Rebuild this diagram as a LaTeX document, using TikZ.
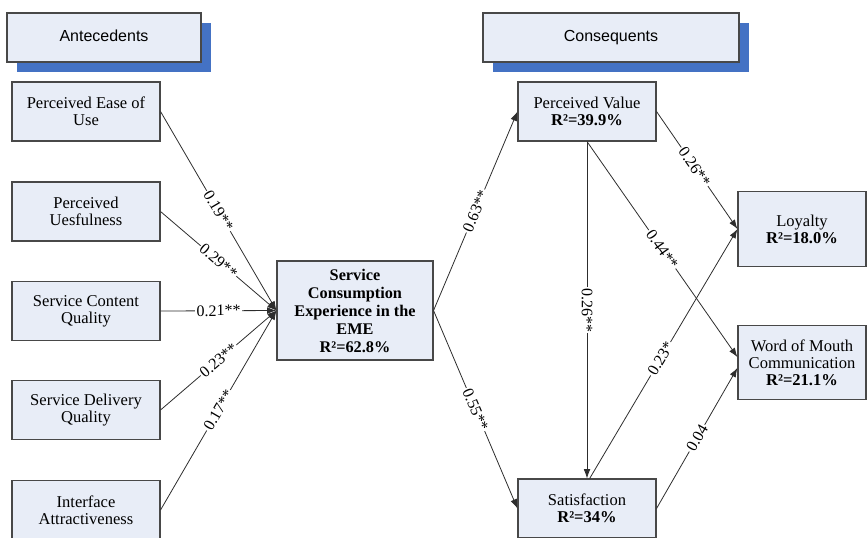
\documentclass[tikz,border=0pt]{standalone}
\usepackage{fontspec}
\setmainfont{Liberation Serif}
\newfontfamily\headfont{Liberation Sans}
\usetikzlibrary{arrows.meta,shadows}

\definecolor{boxfill}{RGB}{232,237,247}
\definecolor{boxline}{RGB}{72,72,72}
\definecolor{shadeblue}{RGB}{68,114,196}
\definecolor{pathline}{RGB}{45,45,45}

\begin{document}
\begin{tikzpicture}[x=0.75pt, y=-0.75pt,
  construct/.style={draw=boxline, fill=boxfill, line width=0.8pt, align=center,
    inner sep=2pt, font=\fontsize{12.4}{12.8}\selectfont},
  leftbox/.style={construct, minimum width=111pt, minimum height=44.25pt},
  midbox/.style={construct, minimum width=103.5pt, minimum height=44.25pt},
  rightbox/.style={construct, minimum width=96pt, minimum height=56pt},
  header/.style={draw=boxline, fill=boxfill, line width=0.8pt, minimum height=36.75pt,
    text height=9pt, text depth=2.5pt,
    font=\headfont\fontsize{12}{14}\selectfont,
    drop shadow={shadow xshift=7.5pt, shadow yshift=-7.5pt, fill=shadeblue, opacity=1}},
  path/.style={draw=pathline, line width=0.6pt, -{Latex[length=7pt,width=5pt]}},
  coef/.style={sloped, fill=white, inner sep=1pt, text=black,
    font=\fontsize{12}{12}\selectfont}
]

  % Keep the page at the size of the figure
  \useasboundingbox (0,0) rectangle (868,537);

  % Section headings
  \node[header, minimum width=145.5pt] (ante) at (104,37.5) {Antecedents};
  \node[header, minimum width=192pt]   (cons) at (611,37.5) {Consequents};

  % Antecedent constructs
  \node[leftbox] (ease)  at (86,111.5) {Perceived Ease of\\Use};
  \node[leftbox] (use)   at (86,211.5) {Perceived\\Uesfulness};
  \node[leftbox] (cont)  at (86,311)   {Service Content\\Quality};
  \node[leftbox] (deliv) at (86,410)   {Service Delivery\\Quality};
  \node[leftbox] (inter) at (86,510)   {Interface\\Attractiveness};

  % Central construct
  \node[construct, minimum width=117pt, minimum height=74.25pt,
        font=\bfseries\fontsize{12.2}{13.5}\selectfont] (sce) at (355,310.5)
    {Service\\Consumption\\Experience in the\\EME\\R²=62.8\%};

  % Consequent constructs
  \node[midbox] (value) at (587,111.5) {Perceived Value\\\textbf{R²=39.9\%}};
  \node[midbox] (satis) at (587,508.5) {Satisfaction\\\textbf{R²=34\%}};
  \node[rightbox] (loyal) at (802,229)   {Loyalty\\\textbf{R²=18.0\%}};
  \node[rightbox] (wom)   at (802,362.5) {Word of Mouth\\Communication\\\textbf{R²=21.1\%}};

  % Paths into the experience construct
  \draw[path] (ease.east)  -- node[coef] {0.19**} (sce.west);
  \draw[path] (use.east)   -- node[coef] {0.29**} (sce.west);
  \draw[path] (cont.east)  -- node[coef] {0.21**} (sce.west);
  \draw[path] (deliv.east) -- node[coef] {0.23**} (sce.west);
  \draw[path] (inter.east) -- node[coef] {0.17**} (sce.west);

  % Paths to the consequents
  \draw[path] (sce.east) -- node[coef] {0.63**} (value.west);
  \draw[path] (sce.east) -- node[coef] {0.55**} (satis.west);
  \draw[path] (value.south) -- node[coef] {0.26**} (satis.north);
  \draw[path] (value.east) -- node[coef, pos=0.47] {0.26**} (loyal.west);
  \draw[path] (value.south) -- node[coef] {0.44**} ([yshift=4pt]wom.west);
  \draw[path] ([xshift=2pt]satis.north) -- node[coef, pos=0.48] {0.23*} (loyal.west);
  \draw[path] (satis.east) -- node[coef] {0.04} ([yshift=-4pt]wom.west);

\end{tikzpicture}
\end{document}
